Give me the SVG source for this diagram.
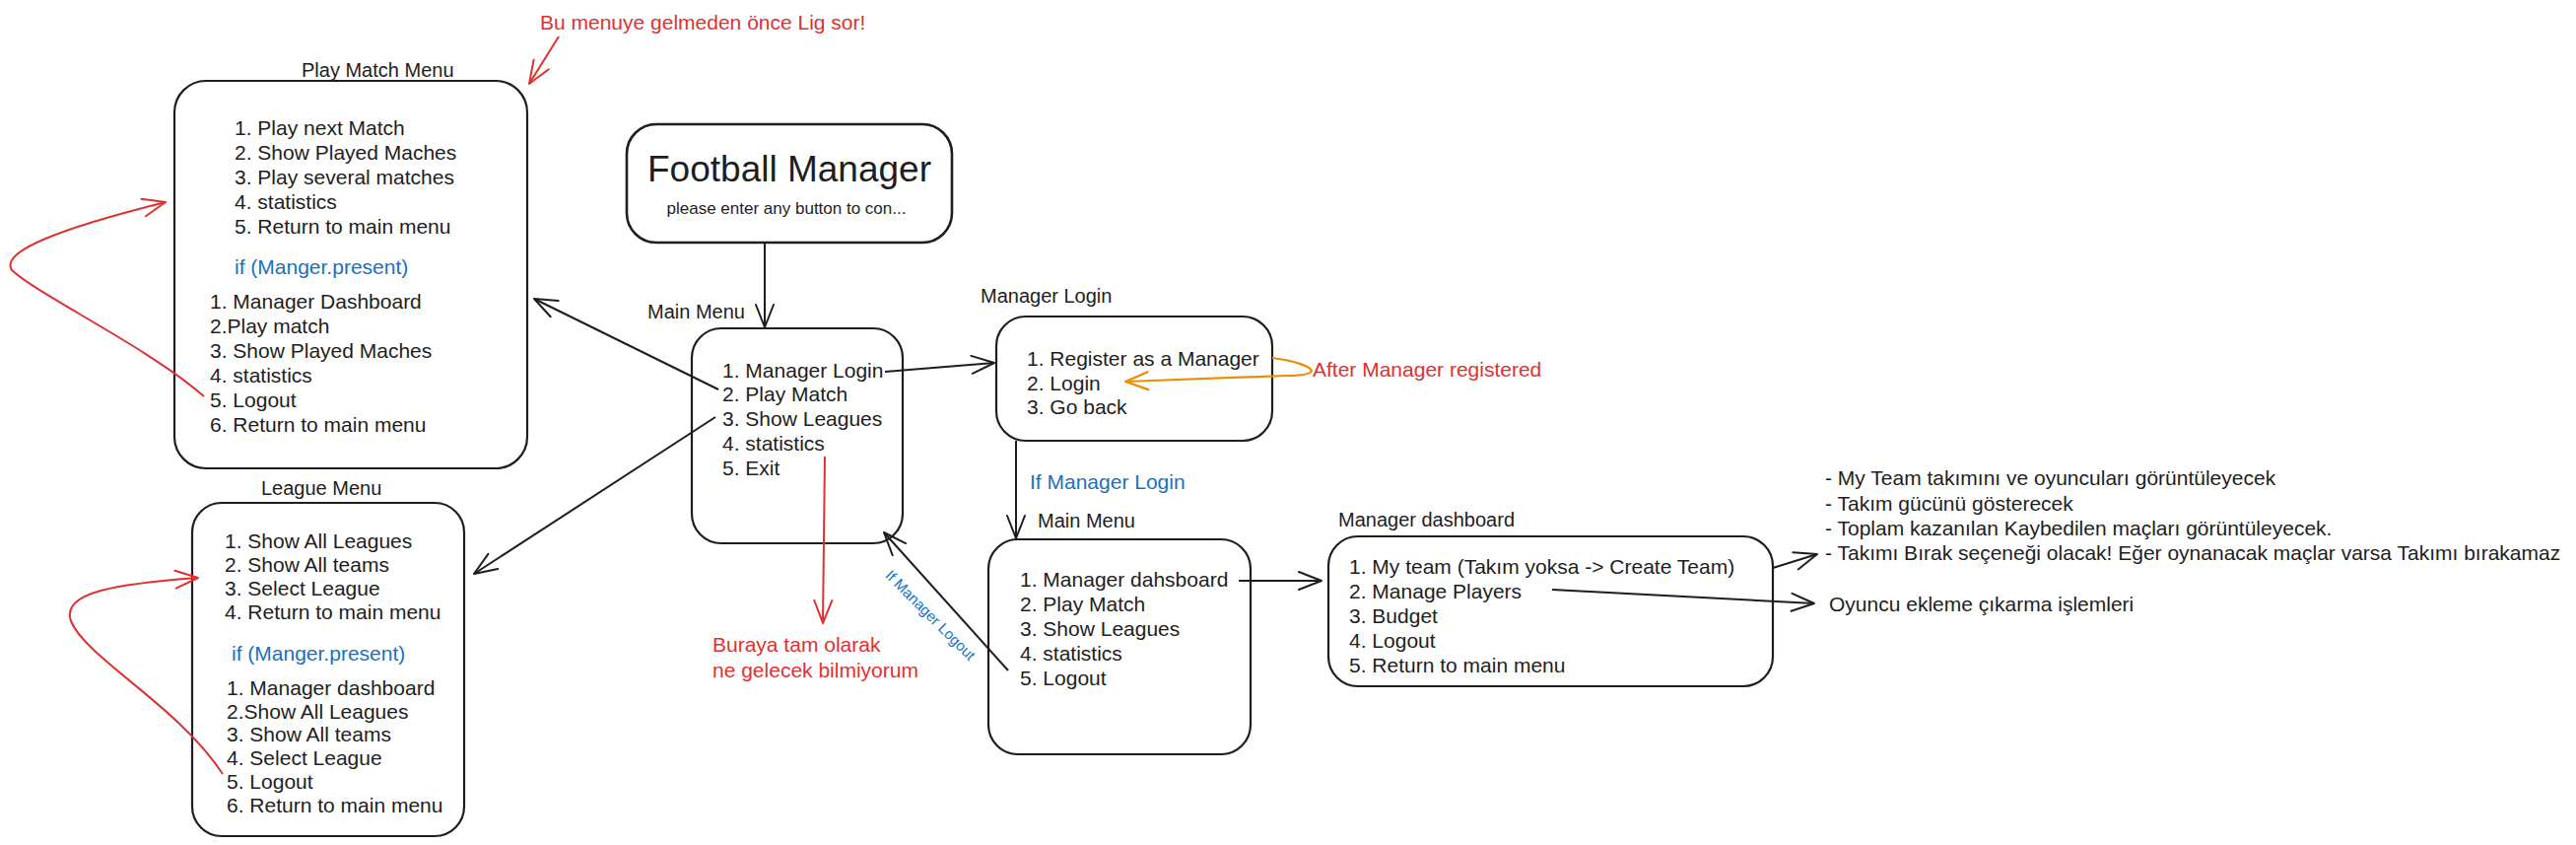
<svg xmlns="http://www.w3.org/2000/svg" width="2614" height="857" viewBox="0 0 2614 857">
<style>
.box{fill:#ffffff;stroke:#1e1e1e;stroke-width:2.2}
.t{font-family:"Liberation Sans",Arial,sans-serif;font-size:21px;fill:#1e1e1e}
.lab{font-family:"Liberation Sans",Arial,sans-serif;font-size:20px;fill:#1e1e1e}
.red{fill:#e03131}
.blue{fill:#1971c2}
.c{fill:none;stroke:#1e1e1e;stroke-width:2}
.cr{fill:none;stroke:#e03131;stroke-width:2}
.co{fill:none;stroke:#f08c00;stroke-width:2.2}
</style>
<defs>
<marker id="ah" markerUnits="userSpaceOnUse" markerWidth="40" markerHeight="40" viewBox="-30 -20 40 40" refX="0" refY="0" orient="auto">
<path d="M-23,-9 L0,0 L-23,9" fill="none" stroke="#1e1e1e" stroke-width="2" stroke-linecap="round" stroke-linejoin="round"/>
</marker>
<marker id="ahr" markerUnits="userSpaceOnUse" markerWidth="40" markerHeight="40" viewBox="-30 -20 40 40" refX="0" refY="0" orient="auto">
<path d="M-23,-9 L0,0 L-23,9" fill="none" stroke="#e03131" stroke-width="2" stroke-linecap="round" stroke-linejoin="round"/>
</marker>
<marker id="aho" markerUnits="userSpaceOnUse" markerWidth="40" markerHeight="40" viewBox="-30 -20 40 40" refX="0" refY="0" orient="auto">
<path d="M-23,-9 L0,0 L-23,9" fill="none" stroke="#f08c00" stroke-width="2.2" stroke-linecap="round" stroke-linejoin="round"/>
</marker>
</defs>
<rect x="0" y="0" width="2614" height="857" fill="#ffffff"/>

<g id="play-match-menu">
<text class="lab" x="306" y="78">Play Match Menu</text>
<rect class="box" x="177" y="82" width="358" height="393" rx="32"/>
<text class="t" x="238" y="137">1. Play next Match</text>
<text class="t" x="238" y="162">2. Show Played Maches</text>
<text class="t" x="238" y="187">3. Play several matches</text>
<text class="t" x="238" y="212">4. statistics</text>
<text class="t" x="238" y="237">5. Return to main menu</text>
<text class="t blue" x="238" y="278">if (Manger.present)</text>
<text class="t" x="213" y="313">1. Manager Dashboard</text>
<text class="t" x="213" y="338">2.Play match</text>
<text class="t" x="213" y="363">3. Show Played Maches</text>
<text class="t" x="213" y="388">4. statistics</text>
<text class="t" x="213" y="413">5. Logout</text>
<text class="t" x="213" y="438">6. Return to main menu</text>
</g>

<g id="note-lig">
<text class="t red" x="548" y="30">Bu menuye gelmeden önce Lig sor!</text>
</g>

<g id="football-manager">
<rect class="box" x="636" y="126" width="330" height="120" rx="30" style="stroke-width:2.6"/>
<text x="801" y="184" text-anchor="middle" style="font-family:'Liberation Sans',Arial,sans-serif;font-size:37px;fill:#1e1e1e">Football Manager</text>
<text x="798" y="217" text-anchor="middle" style="font-family:'Liberation Sans',Arial,sans-serif;font-size:17px;fill:#1e1e1e">please enter any button to con...</text>
</g>

<g id="main-menu">
<text class="lab" x="657" y="323">Main Menu</text>
<rect class="box" x="702" y="333" width="214" height="218" rx="30"/>
<text class="t" x="733" y="383">1. Manager Login</text>
<text class="t" x="733" y="407">2. Play Match</text>
<text class="t" x="733" y="432">3. Show Leagues</text>
<text class="t" x="733" y="457">4. statistics</text>
<text class="t" x="733" y="482">5. Exit</text>
</g>

<g id="manager-login">
<text class="lab" x="995" y="307">Manager Login</text>
<rect class="box" x="1011" y="321" width="280" height="126" rx="30"/>
<text class="t" x="1042" y="371">1. Register as a Manager</text>
<text class="t" x="1042" y="396">2. Login</text>
<text class="t" x="1042" y="420">3. Go back</text>
</g>

<g id="note-registered">
<text class="t red" x="1332" y="382">After Manager registered</text>
</g>

<g id="league-menu">
<text class="lab" x="265" y="502">League Menu</text>
<rect class="box" x="195" y="510" width="276" height="338" rx="30"/>
<text class="t" x="228" y="556">1. Show All Leagues</text>
<text class="t" x="228" y="580">2. Show All teams</text>
<text class="t" x="228" y="604">3. Select League</text>
<text class="t" x="228" y="628">4. Return to main menu</text>
<text class="t blue" x="235" y="670">if (Manger.present)</text>
<text class="t" x="230" y="705">1. Manager dashboard</text>
<text class="t" x="230" y="729">2.Show All Leagues</text>
<text class="t" x="230" y="752">3. Show All teams</text>
<text class="t" x="230" y="776">4. Select League</text>
<text class="t" x="230" y="800">5. Logout</text>
<text class="t" x="230" y="824">6. Return to main menu</text>
</g>

<g id="note-buraya">
<text class="t red" x="723" y="661">Buraya tam olarak</text>
<text class="t red" x="723" y="687">ne gelecek bilmiyorum</text>
</g>

<g id="main-menu-manager">
<text class="lab" x="1053" y="535">Main Menu</text>
<rect class="box" x="1003" y="547" width="266" height="218" rx="30"/>
<text class="t" x="1035" y="595">1. Manager dahsboard</text>
<text class="t" x="1035" y="620">2. Play Match</text>
<text class="t" x="1035" y="645">3. Show Leagues</text>
<text class="t" x="1035" y="670">4. statistics</text>
<text class="t" x="1035" y="695">5. Logout</text>
</g>

<g id="manager-dashboard">
<text class="lab" x="1358" y="534">Manager dashboard</text>
<rect class="box" x="1348" y="544" width="451" height="152" rx="30"/>
<text class="t" x="1369" y="582">1. My team (Takım yoksa -&gt; Create Team)</text>
<text class="t" x="1369" y="607">2. Manage Players</text>
<text class="t" x="1369" y="632">3. Budget</text>
<text class="t" x="1369" y="657">4. Logout</text>
<text class="t" x="1369" y="682">5. Return to main menu</text>
</g>

<g id="note-myteam">
<text class="t" x="1852" y="492">- My Team takımını ve oyuncuları görüntüleyecek</text>
<text class="t" x="1852" y="518">- Takım gücünü gösterecek</text>
<text class="t" x="1852" y="543">- Toplam kazanılan Kaybedilen maçları görüntüleyecek.</text>
<text class="t" x="1852" y="568">- Takımı Bırak seçeneği olacak! Eğer oynanacak maçlar varsa Takımı bırakamaz</text>
</g>

<g id="note-players">
<text class="t" x="1856" y="620">Oyuncu ekleme çıkarma işlemleri</text>
</g>

<g id="connectors">
<path class="c" d="M776,246 L776,332" marker-end="url(#ah)"/>
<path class="c" d="M898,377 L1009,368" marker-end="url(#ah)"/>
<path class="c" d="M729,395 L542,303" marker-end="url(#ah)"/>
<path class="c" d="M726,423 L481,582" marker-end="url(#ah)"/>
<path class="c" d="M1031,447 L1031,546" marker-end="url(#ah)"/>
<text class="t blue" x="1045" y="496">If Manager Login</text>
<path class="c" d="M1257,589 L1341,589" marker-end="url(#ah)"/>
<path class="c" d="M1023,680 L897,540" marker-end="url(#ah)"/>
<text transform="translate(944,624) rotate(45)" x="0" y="5" text-anchor="middle" style="font-family:'Liberation Sans',Arial,sans-serif;font-size:15px;fill:#1971c2">If Manager Logout</text>
<path class="c" d="M1799,576 L1844,562" marker-end="url(#ah)"/>
<path class="c" d="M1575,598 L1841,612" marker-end="url(#ah)"/>
<path class="cr" d="M837,463 L835,632" marker-end="url(#ahr)"/>
<path class="cr" d="M567,37 L537,85" marker-end="url(#ahr)"/>
<path class="cr" d="M207,402 C150,352 40,300 12,274 C0,255 60,232 168,205" marker-end="url(#ahr)"/>
<path class="cr" d="M226,785 C180,715 88,668 72,630 C62,600 120,592 201,586" marker-end="url(#ahr)"/>
<path class="co" d="M1291,363 C1315,366 1330,372 1331,376 C1330,380 1318,381 1305,381 L1142,387" marker-end="url(#aho)"/>
</g>
</svg>
